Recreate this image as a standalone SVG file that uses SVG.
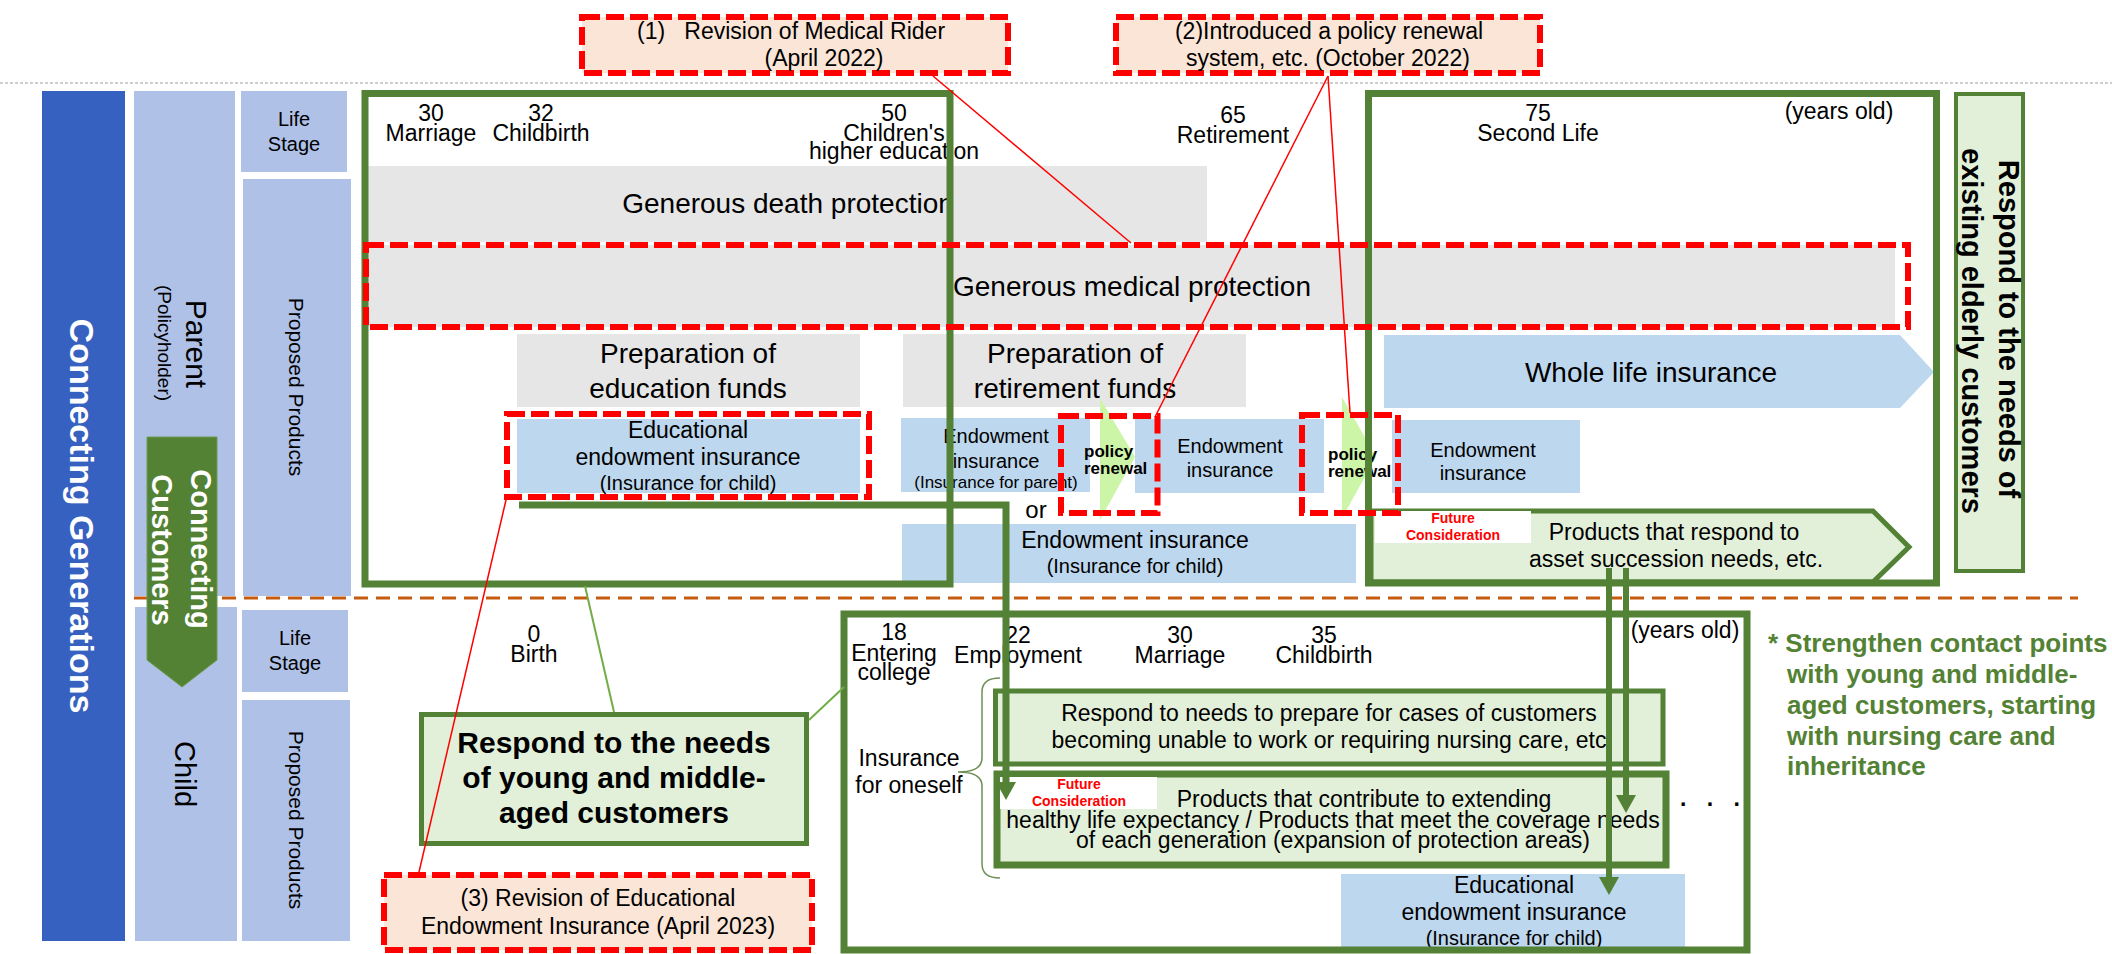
<svg xmlns="http://www.w3.org/2000/svg" width="2112" height="954" viewBox="0 0 2112 954">
<defs>
<style>
text{font-family:"Liberation Sans",Arial,sans-serif;fill:#000}
.m{text-anchor:middle}
.b{font-weight:bold}
.cen{dominant-baseline:central}
.f14{font-size:14px}.f17{font-size:17px}.f19{font-size:19px}.f20{font-size:20px}.f21{font-size:21px}.f23{font-size:23px}.f24{font-size:24px}.f26{font-size:26px}.f28{font-size:28px}.f29{font-size:29px}.f30{font-size:30px}.f34{font-size:34px}
.wt{fill:#fff}
.rt{fill:#FF0000}
.gt{fill:#548235}
.col{fill:#AFC1E7}
.grey{fill:#E6E6E6}
.blue{fill:#BDD7EE}
.gbox{fill:none;stroke:#538135;stroke-width:7}
.lgb{fill:#E2F0D9;stroke:#538135}
.rdash{fill:none;stroke:#FF0000;stroke-width:6;stroke-dasharray:18 6}
.note{fill:#FBE5D6}
.tri{fill:#CCF5A8}
.rl{stroke:#FF0000;stroke-width:1.5;fill:none}
.gl{stroke:#70AD47;stroke-width:2;fill:none}
.conn{stroke:#538135;fill:none;marker-end:url(#ah)}
</style>
<marker id="ah" viewBox="0 0 18 20" refX="6" refY="10" markerWidth="18" markerHeight="20" markerUnits="userSpaceOnUse" orient="auto">
<path d="M0,0 L18,10 L0,20 z" fill="#538135"/>
</marker>
</defs>
<rect width="2112" height="954" fill="#fff"/>

<!-- separators -->
<g id="separators">
<line x1="0" y1="83" x2="2112" y2="83" stroke="#BFBFBF" stroke-width="1.5" stroke-dasharray="3 2"/>
<line x1="134" y1="598" x2="2078" y2="598" stroke="#C55A11" stroke-width="3" stroke-dasharray="14 8"/>
</g>

<!-- left header columns -->
<g id="connecting-generations">
<rect x="42" y="91" width="83" height="850" fill="#3761C0"/>
<text class="f34 b wt m cen" transform="translate(82,516) rotate(90)">Connecting Generations</text>
</g>
<g id="parent">
<rect class="col" x="134" y="91" width="101" height="505"/>
<text class="f30 m cen" transform="translate(196,344) rotate(90)">Parent</text>
<text class="f19 m cen" transform="translate(164,343) rotate(90)">(Policyholder)</text>
</g>
<g id="child">
<rect class="col" x="135" y="607" width="102" height="334"/>
<text class="f29 m cen" transform="translate(185,774) rotate(90)">Child</text>
</g>
<g id="connecting-customers">
<polygon points="147,437 217,437 217,660 182,687 147,660" fill="#548235" stroke="#6E9A50" stroke-width="1"/>
<text class="f29 b wt m cen" transform="translate(201,549) rotate(90)">Connecting</text>
<text class="f29 b wt m cen" transform="translate(162,550) rotate(90)">Customers</text>
</g>
<g id="life-stage-parent">
<rect class="col" x="241" y="91" width="106" height="81"/>
<text class="f20 m" x="294" y="126">Life</text>
<text class="f20 m" x="294" y="151">Stage</text>
</g>
<g id="proposed-products-parent">
<rect class="col" x="243" y="179" width="108" height="417"/>
<text class="f21 m cen" transform="translate(296,387) rotate(90)">Proposed Products</text>
</g>
<g id="life-stage-child">
<rect class="col" x="242" y="610" width="106" height="82"/>
<text class="f20 m" x="295" y="645">Life</text>
<text class="f20 m" x="295" y="670">Stage</text>
</g>
<g id="proposed-products-child">
<rect class="col" x="242" y="700" width="108" height="241"/>
<text class="f21 m cen" transform="translate(296,820) rotate(90)">Proposed Products</text>
</g>

<!-- parent life stage labels -->
<g id="parent-life-stages">
<text class="f23 m" x="431" y="121">30</text>
<text class="f23 m" x="431" y="141">Marriage</text>
<text class="f23 m" x="541" y="121">32</text>
<text class="f23 m" x="541" y="141">Childbirth</text>
<text class="f23 m" x="894" y="121">50</text>
<text class="f23 m" x="894" y="141">Children's</text>
<text class="f23 m" x="894" y="159">higher education</text>
<text class="f23 m" x="1233" y="123">65</text>
<text class="f23 m" x="1233" y="143">Retirement</text>
<text class="f23 m" x="1538" y="121">75</text>
<text class="f23 m" x="1538" y="141">Second Life</text>
<text class="f23 m" x="1839" y="119">(years old)</text>
</g>

<g id="death-protection">
<rect class="grey" x="366" y="166" width="841" height="76"/>
<text class="f28 m" x="788" y="213">Generous death protection</text>
</g>
<g id="medical-protection">
<rect class="grey" x="366" y="245" width="1529" height="82"/>
<text class="f28 m" x="1132" y="296">Generous medical protection</text>
</g>
<g id="education-funds">
<rect class="grey" x="517" y="334" width="343" height="73"/>
<text class="f28 m" x="688" y="363">Preparation of</text>
<text class="f28 m" x="688" y="398">education funds</text>
</g>
<g id="retirement-funds">
<rect class="grey" x="903" y="334" width="343" height="73"/>
<text class="f28 m" x="1075" y="363">Preparation of</text>
<text class="f28 m" x="1075" y="398">retirement funds</text>
</g>
<g id="whole-life">
<polygon class="blue" points="1384,335 1900,335 1934,372 1900,408 1384,408"/>
<text class="f28 m" x="1651" y="382">Whole life insurance</text>
</g>
<g id="edu-endowment-top">
<rect class="blue" x="517" y="419" width="343" height="74"/>
<text class="f23 m" x="688" y="438">Educational</text>
<text class="f23 m" x="688" y="465">endowment insurance</text>
<text class="f20 m" x="688" y="490">(Insurance for child)</text>
</g>
<g id="endowment-parent">
<rect class="blue" x="901" y="418" width="189" height="74"/>
<text class="f20 m" x="996" y="443">Endowment</text>
<text class="f20 m" x="996" y="468">insurance</text>
<text class="f17 m" x="996" y="488">(Insurance for parent)</text>
</g>
<g id="endowment-mid">
<rect class="blue" x="1135" y="419" width="189" height="74"/>
<text class="f20 m" x="1230" y="453">Endowment</text>
<text class="f20 m" x="1230" y="477">insurance</text>
</g>
<g id="endowment-right">
<rect class="blue" x="1392" y="420" width="188" height="73"/>
<text class="f20 m" x="1483" y="457">Endowment</text>
<text class="f20 m" x="1483" y="480">insurance</text>
</g>
<g id="policy-renewal-1">
<polygon class="tri" points="1100,398 1135,457 1100,520"/>
<text class="f17 b" x="1084" y="457">policy</text>
<text class="f17 b" x="1084" y="474">renewal</text>
</g>
<g id="policy-renewal-2">
<polygon class="tri" points="1342,397 1376,457 1342,518"/>
<text class="f17 b" x="1328" y="460">policy</text>
<text class="f17 b" x="1328" y="477">renewal</text>
</g>
<g id="or-label">
<text class="f24 m" x="1036" y="518">or</text>
</g>
<g id="endowment-child">
<rect class="blue" x="902" y="524" width="454" height="59"/>
<text class="f23 m" x="1135" y="548">Endowment insurance</text>
<text class="f20 m" x="1135" y="573">(Insurance for child)</text>
</g>
<g id="asset-succession">
<polygon class="lgb" stroke-width="5" points="1371,511 1873,511 1909,547 1873,582 1371,582"/>
<rect x="1375" y="511" width="156" height="32" fill="#fff"/>
<text class="f14 b rt m" x="1453" y="523">Future</text>
<text class="f14 b rt m" x="1453" y="540">Consideration</text>
<text class="f23 m" x="1674" y="540">Products that respond to</text>
<text class="f23 m" x="1676" y="567">asset succession needs, etc.</text>
</g>
<g id="elderly-needs">
<rect class="lgb" stroke-width="4" x="1956" y="94" width="67" height="477"/>
<text class="f29 b m cen" transform="translate(2009,329) rotate(90)">Respond to the needs of</text>
<text class="f29 b m cen" transform="translate(1972,331) rotate(90)">existing elderly customers</text>
</g>

<!-- child section -->
<g id="child-life-stages">
<text class="f23 m" x="534" y="642">0</text>
<text class="f23 m" x="534" y="662">Birth</text>
<text class="f23 m" x="894" y="640">18</text>
<text class="f23 m" x="894" y="661">Entering</text>
<text class="f23 m" x="894" y="680">college</text>
<text class="f23 m" x="1018" y="643">22</text>
<text class="f23 m" x="1018" y="663">Employment</text>
<text class="f23 m" x="1180" y="643">30</text>
<text class="f23 m" x="1180" y="663">Marriage</text>
<text class="f23 m" x="1324" y="643">35</text>
<text class="f23 m" x="1324" y="663">Childbirth</text>
<text class="f23 m" x="1685" y="638">(years old)</text>
</g>
<g id="insurance-oneself">
<text class="f23 m" x="909" y="766">Insurance</text>
<text class="f23 m" x="909" y="793">for oneself</text>
<path d="M1000,678 Q982,678 982,692 V758 Q982,772 958,772 Q982,772 982,786 V864 Q982,878 1000,878" fill="none" stroke="#6E8F55" stroke-width="1.5"/>
</g>
<g id="nursing-care">
<rect class="lgb" stroke-width="5" x="995.5" y="691" width="667.5" height="73"/>
<text class="f23 m" x="1329" y="721">Respond to needs to prepare for cases of customers</text>
<text class="f23 m" x="1329" y="748">becoming unable to work or requiring nursing care, etc</text>
</g>
<g id="healthy-life">
<rect class="lgb" stroke-width="7" x="997" y="774" width="669" height="91"/>
<rect x="1000" y="777" width="157" height="32" fill="#fff"/>
<text class="f14 b rt m" x="1079" y="789">Future</text>
<text class="f14 b rt m" x="1079" y="806">Consideration</text>
<text class="f23 m" x="1364" y="807">Products that contribute to extending</text>
<text class="f23 m" x="1333" y="828">healthy life expectancy / Products that meet the coverage needs</text>
<text class="f23 m" x="1333" y="848">of each generation (expansion of protection areas)</text>
</g>
<g id="edu-endowment-bottom">
<rect class="blue" x="1341" y="874" width="344" height="74"/>
<text class="f23 m" x="1514" y="893">Educational</text>
<text class="f23 m" x="1514" y="920">endowment insurance</text>
<text class="f20 m" x="1514" y="945">(Insurance for child)</text>
</g>
<g id="ellipsis">
<text class="f23 b" x="1680" y="806" letter-spacing="7">. . .</text>
</g>
<g id="young-needs">
<rect class="lgb" stroke-width="5" x="421.5" y="714.5" width="385" height="129"/>
<text class="f30 b m" x="614" y="753">Respond to the needs</text>
<text class="f30 b m" x="614" y="788">of young and middle-</text>
<text class="f30 b m" x="614" y="823">aged customers</text>
</g>
<g id="strengthen-note">
<text class="f26 b gt" x="1768" y="652">* Strengthen contact points</text>
<text class="f26 b gt" x="1787" y="683">with young and middle-</text>
<text class="f26 b gt" x="1787" y="714">aged customers, starting</text>
<text class="f26 b gt" x="1787" y="745">with nursing care and</text>
<text class="f26 b gt" x="1787" y="775">inheritance</text>
</g>

<!-- green frames -->
<g id="frame-young-parent">
<rect class="gbox" x="365" y="93.5" width="585" height="490.5"/>
</g>
<g id="frame-elderly">
<rect class="gbox" x="1368.5" y="93.5" width="568" height="489.5"/>
</g>
<g id="frame-child">
<rect class="gbox" x="844" y="614" width="903" height="336"/>
</g>

<!-- red dashed highlights -->
<g id="highlight-medical"><rect class="rdash" x="366" y="245" width="1542" height="82"/></g>
<g id="highlight-edu"><rect class="rdash" x="507" y="414" width="362" height="83"/></g>
<g id="highlight-renewal-1"><rect class="rdash" x="1061" y="416" width="96.5" height="97"/></g>
<g id="highlight-renewal-2"><rect class="rdash" x="1302" y="415" width="96" height="98"/></g>

<!-- revision notes -->
<g id="revision-1">
<rect class="note" x="582" y="17" width="426" height="56"/>
<rect class="rdash" x="582" y="17" width="426" height="56"/>
<text class="f23" x="637" y="39" xml:space="preserve">(1)   Revision of Medical Rider</text>
<text class="f23 m" x="824" y="66">(April 2022)</text>
</g>
<g id="revision-2">
<rect class="note" x="1116" y="17" width="424" height="56"/>
<rect class="rdash" x="1116" y="17" width="424" height="56"/>
<text class="f23 m" x="1329" y="39">(2)Introduced a policy renewal</text>
<text class="f23 m" x="1328" y="66">system, etc. (October 2022)</text>
</g>
<g id="revision-3">
<rect class="note" x="384" y="875" width="428" height="75"/>
<rect class="rdash" x="384" y="875" width="428" height="75"/>
<text class="f23 m" x="598" y="906">(3) Revision of Educational</text>
<text class="f23 m" x="598" y="934">Endowment Insurance (April 2023)</text>
</g>

<!-- connectors -->
<g id="connectors">
<line class="gl" x1="585" y1="586" x2="614" y2="712"/>
<line class="gl" x1="809" y1="720" x2="844" y2="687"/>
<path class="conn" stroke-width="7" d="M519,505 H1006 V788"/>
<path class="conn" stroke-width="6" d="M1626,568 V801"/>
<path class="conn" stroke-width="6" d="M1609,568 V883"/>
<line class="rl" x1="933" y1="76" x2="1131" y2="243"/>
<line class="rl" x1="1328" y1="76" x2="1155" y2="417"/>
<line class="rl" x1="1328" y1="76" x2="1350" y2="413"/>
<line class="rl" x1="506" y1="500" x2="419" y2="872"/>
</g>
</svg>
